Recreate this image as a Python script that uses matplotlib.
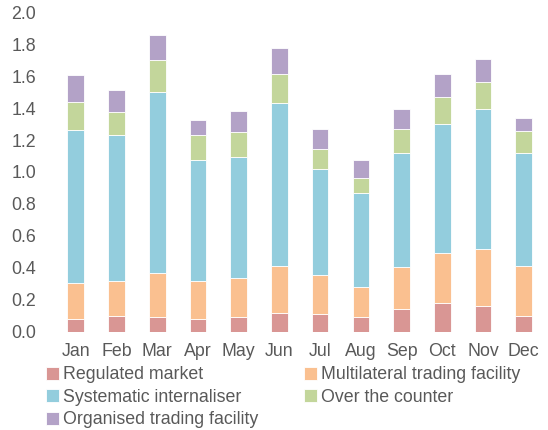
import numpy as np
import matplotlib.pyplot as plt

plt.rcParams['font.family'] = ['Liberation Sans', 'DejaVu Sans']

months = ['Jan', 'Feb', 'Mar', 'Apr', 'May', 'Jun',
          'Jul', 'Aug', 'Sep', 'Oct', 'Nov', 'Dec']

regulated = [0.083, 0.098, 0.091, 0.079, 0.091, 0.116,
             0.114, 0.091, 0.141, 0.179, 0.160, 0.098]
mtf = [0.221, 0.221, 0.278, 0.242, 0.248, 0.294,
       0.242, 0.188, 0.263, 0.312, 0.356, 0.312]
sys_int = [0.960, 0.912, 1.133, 0.752, 0.752, 1.019,
           0.660, 0.590, 0.717, 0.811, 0.875, 0.709]
otc = [0.173, 0.146, 0.200, 0.160, 0.161, 0.185,
       0.125, 0.094, 0.148, 0.169, 0.173, 0.135]
otf = [0.171, 0.137, 0.152, 0.094, 0.127, 0.161,
       0.130, 0.110, 0.122, 0.143, 0.144, 0.083]

series = [
    ('Regulated market', regulated, '#D99694'),
    ('Multilateral trading facility', mtf, '#FAC090'),
    ('Systematic internaliser', sys_int, '#93CDDD'),
    ('Over the counter', otc, '#C3D69B'),
    ('Organised trading facility', otf, '#B3A2C7'),
]

text_col = '#595959'

fig = plt.figure(figsize=(5.48, 4.30), dpi=100)
ax = fig.add_axes([0.101, 0.228, 0.892, 0.744])

x = np.arange(len(months))
bottom = np.zeros(len(months))
handles = []
for name, vals, col in series:
    b = ax.bar(x, vals, 0.41, bottom=bottom, color=col,
               edgecolor='white', linewidth=0.6, label=name)
    handles.append(b)
    bottom += np.array(vals)

ax.set_xlim(-0.5, len(months) - 0.5)
ax.set_ylim(0, 2.0)
ax.set_yticks(np.arange(0, 2.01, 0.2))
ax.set_yticklabels([f'{v:.1f}' for v in np.arange(0, 2.01, 0.2)])
ax.set_xticks(x)
ax.set_xticklabels(months)
ax.tick_params(length=0, labelsize=12.75, colors=text_col, pad=8)
ax.tick_params(axis='y', pad=14)
for s in ax.spines.values():
    s.set_visible(False)

# legend in two columns, row-major order
order = [0, 2, 4, 1, 3]
leg = fig.legend([handles[i] for i in order],
                 [series[i][0] for i in order],
                 loc='upper left', bbox_to_anchor=(0.084, 0.148),
                 ncol=2, frameon=False, fontsize=12.75,
                 handlelength=0.75, handleheight=0.75, handletextpad=0.2,
                 columnspacing=2.6, labelspacing=0.31, borderaxespad=0,
                 borderpad=0)
for t in leg.get_texts():
    t.set_color(text_col)

fig.savefig('out.png', dpi=100)
